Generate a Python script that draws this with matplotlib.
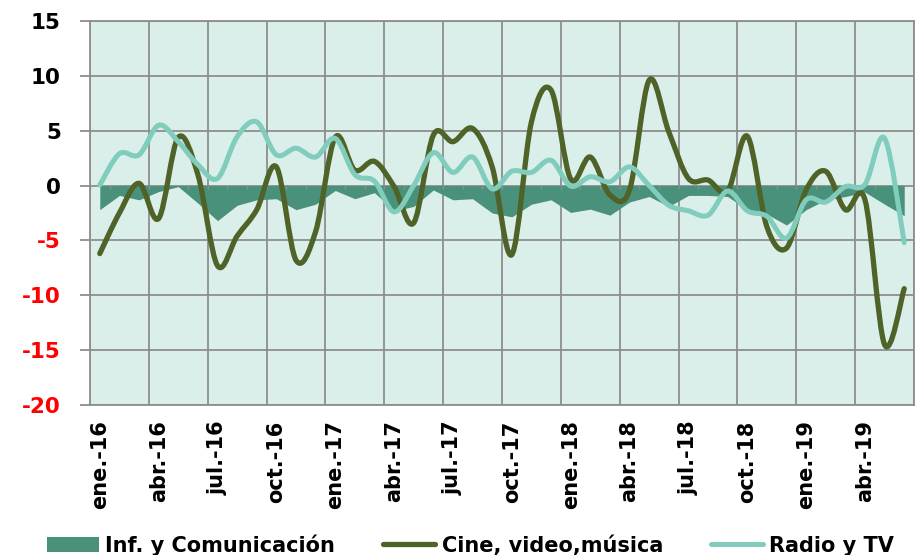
import numpy as np
import matplotlib
matplotlib.use("Agg")
import matplotlib.pyplot as plt
from matplotlib.path import Path
from matplotlib.patches import PathPatch, Patch
from matplotlib.lines import Line2D

# monthly series, ene-16 .. jun-19
months = ["ene.", "feb.", "mar.", "abr.", "may.", "jun.", "jul.", "ago.", "sep.", "oct.", "nov.", "dic."]
years = ["16", "17", "18", "19"]
categories = [m + "-" + yy for yy in years for m in months][:42]

inf_com = [-2.2, -0.9, -1.3, -0.55, -0.1, -1.6, -3.2, -1.8, -1.3, -1.2, -2.2, -1.7,
           -0.45, -1.2, -0.65, -2.3, -1.9, -0.4, -1.3, -1.2, -2.5, -2.85, -1.7, -1.3,
           -2.45, -2.15, -2.7, -1.5, -1.0, -1.9, -0.9, -0.9, -1.0, -2.2, -2.6, -3.6,
           -2.2, -1.3, -1.0, -0.6, -1.7, -2.75]
cine = [-6.2, -2.5, 0.2, -3.0, 4.4, 1.0, -7.3, -4.6, -2.2, 1.7, -6.8, -4.2,
        4.4, 1.4, 2.2, -0.1, -3.4, 4.6, 4.0, 5.2, 1.7, -6.3, 5.8, 8.7,
        0.6, 2.6, -0.85, -0.4, 9.6, 4.9, 0.65, 0.5, -0.5, 4.5, -3.75, -5.7,
        -0.4, 1.3, -2.2, -1.3, -14.5, -9.4]
radio = [0.05, 2.9, 2.8, 5.5, 4.0, 1.9, 0.65, 4.45, 5.8, 2.8, 3.4, 2.6,
         4.3, 1.0, 0.4, -2.4, 0.0, 3.0, 1.2, 2.6, -0.3, 1.3, 1.2, 2.3,
         -0.05, 0.8, 0.35, 1.7, 0.0, -1.8, -2.3, -2.7, -0.5, -2.3, -2.8, -4.8,
         -1.3, -1.5, -0.1, 0.1, 4.3, -5.2]

labels = ["Inf. y Comunicación", "Cine, video,música", "Radio y TV"]
c_area = "#4a917b"
c_cine = "#4f6228"
c_radio = "#80ccbd"
c_grid = "#8e8e8e"


def smooth_path(x, y):
    # excel-like smoothed line: cubic bezier through each point
    n = len(x)
    verts = [(x[0], y[0])]
    codes = [Path.MOVETO]
    for i in range(n - 1):
        xa, ya = (x[i - 1], y[i - 1]) if i > 0 else (x[i], y[i])
        xb, yb = (x[i + 2], y[i + 2]) if i + 2 < n else (x[i + 1], y[i + 1])
        c1 = (x[i] + (x[i + 1] - xa) / 6, y[i] + (y[i + 1] - ya) / 6)
        c2 = (x[i + 1] - (xb - x[i]) / 6, y[i + 1] - (yb - y[i]) / 6)
        verts += [c1, c2, (x[i + 1], y[i + 1])]
        codes += [Path.CURVE4] * 3
    return Path(verts, codes)


plt.rcParams["font.family"] = "DejaVu Sans"
plt.rcParams["font.weight"] = "bold"

fig = plt.figure(figsize=(9.19, 5.55), dpi=100)
ax = fig.add_axes([0.0979, 0.2703, 0.8967, 0.6919])
ax.set_facecolor("#daeeea")

x = np.arange(len(categories))
ax.set_xlim(-0.5, len(categories) - 0.5)
ax.set_ylim(-20, 15)

# grid
for yv in range(-20, 16, 5):
    ax.axhline(yv, color=c_grid, lw=1.3, zorder=1)
for b in np.arange(-0.5, len(categories), 3):
    ax.axvline(b, color=c_grid, lw=1.3, zorder=1)

ax.fill_between(x, inf_com, 0, color=c_area, lw=0, zorder=2)
ax.vlines(np.arange(-0.5, len(categories), 1), -0.35, 0, color=c_grid, lw=1, zorder=2)

ax.add_patch(PathPatch(smooth_path(x, cine), fill=False, edgecolor=c_cine,
                       lw=3.8, capstyle="round", joinstyle="round", zorder=3))
ax.add_patch(PathPatch(smooth_path(x, radio), fill=False, edgecolor=c_radio,
                       lw=3.6, capstyle="round", joinstyle="round", zorder=4))

for s in ax.spines.values():
    s.set_color(c_grid)
    s.set_linewidth(1.3)

ax.set_yticks(range(-20, 16, 5))
ax.set_yticklabels([str(v) for v in range(-20, 16, 5)], fontsize=15.5, fontweight="bold")
for t, v in zip(ax.get_yticklabels(), range(-20, 16, 5)):
    t.set_color("red" if v < 0 else "black")
ax.tick_params(axis="y", length=7, color=c_grid, width=1.3, pad=14)

ax.set_xticks(x[::3])
ax.set_xticklabels(categories[::3], rotation=90, fontsize=15, fontweight="bold")
ax.tick_params(axis="x", length=0, pad=11)

handles = [Patch(facecolor=c_area, edgecolor="none"),
           Line2D([], [], color=c_cine, lw=3.8, solid_capstyle="round"),
           Line2D([], [], color=c_radio, lw=3.6, solid_capstyle="round")]
fig.legend(handles, labels, loc="center", bbox_to_anchor=(0.512, 0.018), ncol=3,
           frameon=False, fontsize=15, handlelength=2.5, handletextpad=0.3,
           columnspacing=2.3, borderaxespad=0)

fig.savefig("out.png", dpi=100)
